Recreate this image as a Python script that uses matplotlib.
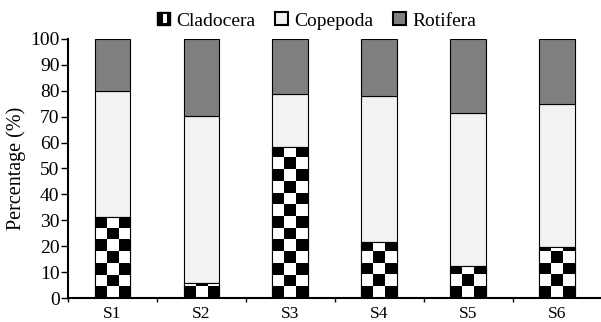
import numpy as np
import matplotlib.pyplot as plt
from matplotlib.patches import Rectangle
from matplotlib.legend_handler import HandlerBase

plt.rcParams["font.family"] = ["Liberation Serif", "DejaVu Serif"]

SITES = ["S1", "S2", "S3", "S4", "S5", "S6"]
CLADOCERA = [31.4, 5.7, 58.4, 21.7, 12.4, 19.8]
COPEPODA = [48.6, 64.6, 20.5, 56.3, 59.1, 55.2]
ROTIFERA = [20.0, 29.7, 21.1, 22.0, 28.5, 25.0]

BAR_W = 0.4
CELL_H = 4.5  # checker cell height in % units


class CheckerHandler(HandlerBase):
    def create_artists(self, legend, orig_handle, xdescent, ydescent,
                       width, height, fontsize, trans):
        s = height
        x0 = -xdescent + (width - s) / 2
        y0 = -ydescent
        outer = Rectangle((x0, y0), s, s, facecolor="black", edgecolor="black",
                          lw=1, transform=trans)
        inner = Rectangle((x0 + s * 0.45, y0 + s * 0.15), s * 0.3, s * 0.7,
                          facecolor="white", edgecolor="none", transform=trans)
        return [outer, inner]


class SquareHandler(HandlerBase):
    def create_artists(self, legend, orig_handle, xdescent, ydescent,
                       width, height, fontsize, trans):
        s = height
        x0 = -xdescent + (width - s) / 2
        r = Rectangle((x0, -ydescent), s, s, facecolor=orig_handle.get_facecolor(),
                      edgecolor="black", lw=1.5, transform=trans)
        return [r]


fig = plt.figure(figsize=(6.01, 3.22), dpi=100)
ax = fig.add_axes([0.113, 0.0745, 0.888, 0.8045])

x = np.arange(len(SITES))
cla = np.array(CLADOCERA)
cop = np.array(COPEPODA)
rot = np.array(ROTIFERA)

bars_c = ax.bar(x, cla, BAR_W, facecolor="white", edgecolor="black", lw=0.8, zorder=2)
ax.bar(x, cop, BAR_W, bottom=cla, facecolor="#f2f2f2", edgecolor="black", lw=0.8, zorder=2)
ax.bar(x, rot, BAR_W, bottom=cla + cop, facecolor="#7f7f7f", edgecolor="black", lw=0.8, zorder=2)

# checkerboard fill for Cladocera, clipped to each bar
for b in bars_c:
    bx, bw, bh = b.get_x(), b.get_width(), b.get_height()
    ny = int(np.ceil(bh / CELL_H))
    board = (np.add.outer(np.arange(ny), np.arange(3)) % 2).astype(float)
    im = ax.imshow(board, cmap="gray", vmin=0, vmax=1, origin="lower",
                   extent=(bx, bx + bw, 0, ny * CELL_H), aspect="auto",
                   interpolation="nearest", zorder=2.5)
    im.set_clip_path(b)
    edge = Rectangle((bx, 0), bw, bh, facecolor="none", edgecolor="black", lw=0.8, zorder=3)
    ax.add_patch(edge)

ax.set_xlim(-0.5, len(SITES) - 0.5)
ax.set_ylim(0, 100)
ax.set_yticks(np.arange(0, 101, 10))
ax.set_xticks(x)
ax.set_xticklabels(SITES)
ax.set_xticks(np.arange(-0.5, len(SITES), 1.0), minor=True)
ax.tick_params(axis="x", which="major", length=0, labelsize=12.5, pad=6)
ax.tick_params(axis="x", which="minor", length=3, width=1, direction="out")
ax.tick_params(axis="y", length=5, width=1, labelsize=14, pad=1)
ax.spines["top"].set_visible(False)
ax.spines["right"].set_visible(False)
ax.spines["left"].set_linewidth(1.5)
ax.spines["bottom"].set_linewidth(1.5)
ax.set_ylabel("Percentage (%)", fontsize=14.5, labelpad=3)

h_c = Rectangle((0, 0), 1, 1, facecolor="black")
h_p = Rectangle((0, 0), 1, 1, facecolor="#f2f2f2")
h_r = Rectangle((0, 0), 1, 1, facecolor="#7f7f7f")
fig.legend([h_c, h_p, h_r], ["Cladocera", "Copepoda", "Rotifera"],
           handler_map={h_c: CheckerHandler(), h_p: SquareHandler(), h_r: SquareHandler()},
           loc="center", bbox_to_anchor=(0.526, 0.935), ncol=3, frameon=False,
           fontsize=14, handlelength=0.7, handletextpad=0.3, columnspacing=1.0,
           handleheight=0.65)

fig.savefig("out.png", dpi=100)
